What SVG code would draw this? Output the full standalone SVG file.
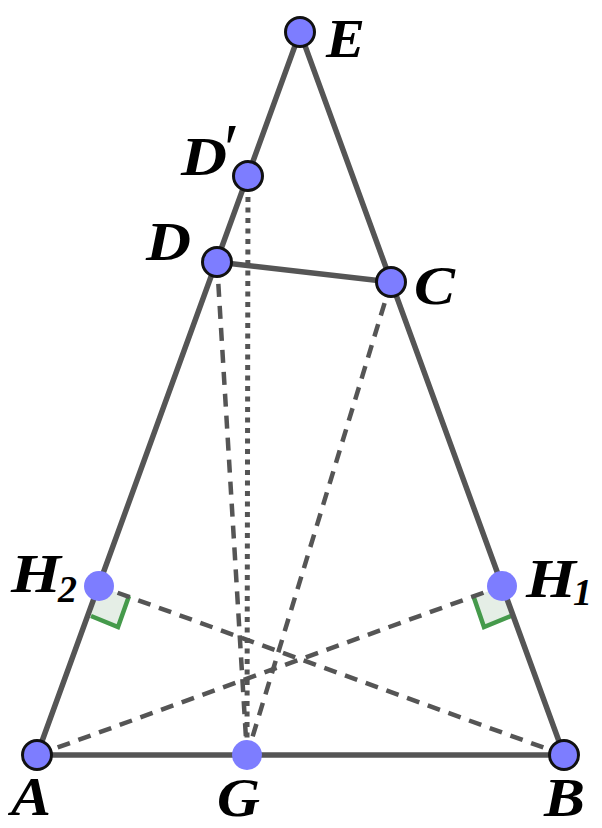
<svg xmlns="http://www.w3.org/2000/svg" width="602" height="828" viewBox="0 0 602 828">
<style>
.s{stroke:#555;stroke-width:5.5;fill:none}
.d{stroke:#555;stroke-width:4.5;fill:none;stroke-dasharray:13 9}
.o{stroke:#555;stroke-width:5;fill:none;stroke-dasharray:5 5.5}
.r{fill:#e5eee6;stroke:none}
.ra{fill:none;stroke:#459a4b;stroke-width:4.5;stroke-linejoin:miter}
.p{fill:#7d7dff;stroke:#111;stroke-width:3}
.h{fill:#7d7dff;stroke:none}
text{font-family:"Liberation Serif","Times New Roman",serif;font-weight:bold;font-style:italic;fill:#000;font-size:54px}
.sub{font-size:38px}
</style>
<rect width="602" height="828" fill="#fff"/>
<g id="angle-marks">
<path class="r" d="M99 586L129 597L118 626L91 616Z"/>
<path class="r" d="M502 586L473 597L483 627L511 616Z"/>
<path class="ra" d="M129 596L118 627L91 616"/>
<path class="ra" d="M473 595L484 627L511 616"/>
</g>
<g id="connectors">
<path class="s" d="M37 755L300 32L564 755Z"/>
<path class="s" d="M217 262L391 282"/>
<path class="d" d="M37 755L502 586"/>
<path class="d" d="M564 755L99 586"/>
<path class="d" d="M217 262L247 755"/>
<path class="d" d="M391 282L247 755"/>
<path class="o" d="M248 176L247 755"/>
</g>
<g id="node-E"><circle class="p" cx="300" cy="32" r="14.5"/><text x="326" y="57" textLength="39" lengthAdjust="spacingAndGlyphs">E</text></g>
<g id="node-Dp"><circle class="p" cx="248" cy="176" r="14.5"/><text x="181" y="175" textLength="46" lengthAdjust="spacingAndGlyphs">D</text><text x="224" y="172" style="font-size:70px;font-style:normal;font-weight:normal">′</text></g>
<g id="node-D"><circle class="p" cx="217" cy="262" r="14.5"/><text x="146" y="260" textLength="45" lengthAdjust="spacingAndGlyphs">D</text></g>
<g id="node-C"><circle class="p" cx="391" cy="282" r="14.5"/><text x="414" y="304" textLength="41" lengthAdjust="spacingAndGlyphs">C</text></g>
<g id="node-H1"><circle class="h" cx="502" cy="586" r="15"/><text x="526" y="597" textLength="50" lengthAdjust="spacingAndGlyphs">H</text><text class="sub" x="573" y="605">1</text></g>
<g id="node-H2"><circle class="h" cx="99" cy="586" r="15"/><text x="11" y="592" textLength="50" lengthAdjust="spacingAndGlyphs">H</text><text class="sub" x="58" y="602">2</text></g>
<g id="node-A"><circle class="p" cx="37" cy="755" r="14.5"/><text x="11" y="815" textLength="40" lengthAdjust="spacingAndGlyphs">A</text></g>
<g id="node-G"><circle class="h" cx="247" cy="755" r="15"/><text x="217" y="816" textLength="43" lengthAdjust="spacingAndGlyphs">G</text></g>
<g id="node-B"><circle class="p" cx="564" cy="755" r="14.5"/><text x="544" y="816" textLength="41" lengthAdjust="spacingAndGlyphs">B</text></g>
</svg>
